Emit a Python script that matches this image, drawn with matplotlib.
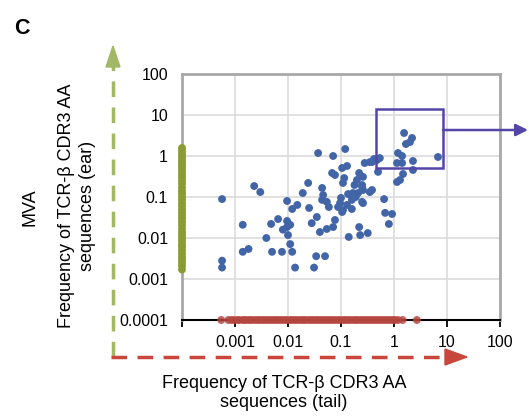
import matplotlib
matplotlib.use("Agg")
import matplotlib.pyplot as plt
from matplotlib.lines import Line2D
from matplotlib.patches import Polygon, Rectangle

plt.rcParams['font.family'] = ['Liberation Sans', 'DejaVu Sans']

# clones found in both tail and ear (frequency, %)
tail_freq = [0.00057, 0.0023, 0.0030, 0.0014, 0.0048, 0.0065, 0.0039, 0.0014, 0.0018, 0.0050,
             0.0077, 0.00057, 0.00057, 0.0096, 0.012, 0.0096, 0.0080, 0.011, 0.015, 0.025,
             0.019, 0.024, 0.037, 0.071, 0.12, 0.044, 0.046, 0.044, 0.054, 0.068,
             0.077, 0.105, 0.13, 0.109, 0.22, 0.20, 0.26, 0.35, 0.28, 0.42,
             0.54, 0.50, 0.10, 0.136, 0.16, 0.13, 0.16, 0.088, 0.105, 0.059,
             0.21, 0.26, 0.35, 0.25, 0.19, 0.18, 0.25, 0.035, 0.028, 0.077,
             0.071, 0.054, 0.040, 0.0096, 0.010, 0.22, 0.23, 0.32, 0.14, 0.65,
             0.68, 0.92, 0.80, 0.011, 0.012, 0.034, 0.050, 0.0136, 0.031, 0.096,
             0.109, 1.55, 2.19, 2.0, 1.68, 1.19, 1.42, 1.14, 1.42, 2.28,
             6.76, 2.28, 1.48, 1.30, 1.14, 0.48, 0.385, 0.385, 0.25, 0.26,
             0.168, 0.115]
ear_freq = [0.089, 0.185, 0.132, 0.021, 0.022, 0.029, 0.010, 0.0046, 0.0054, 0.0046,
            0.0046, 0.0028, 0.0019, 0.080, 0.051, 0.026, 0.016, 0.021, 0.064, 0.054,
            0.125, 0.22, 1.18, 1.0, 1.48, 0.166, 0.112, 0.085, 0.076, 0.385,
            0.344, 0.51, 0.57, 0.22, 0.385, 0.26, 0.31, 0.71, 0.675, 0.845,
            0.89, 0.41, 0.095, 0.118, 0.085, 0.064, 0.051, 0.057, 0.043, 0.057,
            0.125, 0.148, 0.132, 0.076, 0.10, 0.196, 0.196, 0.0325, 0.023, 0.0275,
            0.0185, 0.0166, 0.014, 0.0185, 0.0118, 0.0185, 0.0118, 0.0132, 0.0106, 0.089,
            0.041, 0.0385, 0.022, 0.0071, 0.0046, 0.0036, 0.0036, 0.0019, 0.0019, 0.071,
            0.048, 3.64, 2.75, 2.19, 1.96, 1.18, 1.0, 0.675, 0.675, 0.755,
            0.946, 0.456, 0.364, 0.26, 0.232, 0.80, 0.714, 0.148, 0.175, 0.071,
            0.125, 0.29]

# clones found only in the ear (drawn on the y axis)
ear_only = [1.57, 1.3, 1.1, 0.95, 0.8, 0.68, 0.58, 0.5, 0.42, 0.35, 0.3, 0.25, 0.21, 0.17,
            0.14, 0.12, 0.1, 0.085, 0.07, 0.06, 0.05, 0.042, 0.035, 0.03, 0.025, 0.021,
            0.017, 0.014, 0.012, 0.01, 0.0085, 0.007, 0.006, 0.005, 0.0042, 0.0035,
            0.003, 0.0025, 0.0021, 0.0017]
# clones found only in the tail (drawn on the x axis)
tail_only = [0.00055, 0.00075, 0.00085, 0.00095, 0.0011, 0.0012, 0.0014, 0.0015, 0.0017,
             0.0019, 0.0021, 0.0024, 0.0027, 0.003, 0.0034, 0.0038, 0.0043, 0.0048,
             0.0054, 0.006, 0.0067, 0.0075, 0.0085, 0.0095, 0.011, 0.012, 0.0135, 0.015,
             0.017, 0.019, 0.021, 0.024, 0.027, 0.03, 0.034, 0.038, 0.043, 0.048, 0.054,
             0.06, 0.067, 0.075, 0.085, 0.095, 0.11, 0.12, 0.135, 0.15, 0.17, 0.19,
             0.21, 0.24, 0.27, 0.3, 0.34, 0.38, 0.43, 0.48, 0.54, 0.6, 0.67, 0.75,
             0.85, 0.95, 1.05, 1.2, 1.45, 2.7]

ticks = [0.0001, 0.001, 0.01, 0.1, 1, 10, 100]
tick_labels = ['0.0001', '0.001', '0.01', '0.1', '1', '10', '100']

W, H = 529, 419
fig = plt.figure(figsize=(W / 100, H / 100), dpi=100)
ax = fig.add_axes([182 / W, (H - 320) / H, 318 / W, 246 / H])
ax.set_xscale('log')
ax.set_yscale('log')
ax.set_xlim(1e-4, 100)
ax.set_ylim(1e-4, 100)

ax.grid(True, color='#dcdcdc', lw=1.2, zorder=0)
ax.set_axisbelow(True)

ax.scatter(tail_freq, ear_freq, s=32, color='#4265a8', edgecolors='none', zorder=3)
ax.scatter([1e-4] * len(ear_only), ear_only, s=32, color='#8a9b33', edgecolors='none',
           zorder=4, clip_on=False)
ax.scatter(tail_only, [1e-4] * len(tail_only), s=32, color='#b4463f', edgecolors='none',
           zorder=4, clip_on=False, alpha=0.85)

ax.set_xticks(ticks)
ax.set_xticklabels([''] + tick_labels[1:])
ax.set_yticks(ticks)
ax.set_yticklabels(tick_labels)
ax.minorticks_off()
ax.tick_params(axis='x', direction='out', length=5, width=1.3, color='black',
               labelsize=11.5, pad=6)
ax.tick_params(axis='y', length=0, labelsize=11.5, pad=10)

for side in ['left', 'top', 'right']:
    ax.spines[side].set_color('#a8a8a8')
    ax.spines[side].set_linewidth(2)
ax.spines['bottom'].set_color('black')
ax.spines['bottom'].set_linewidth(1.5)

# zoom box with arrow
ax.add_patch(Rectangle((0.457, 0.51), 8.4 - 0.457, 14 - 0.51, fill=False,
                       ec='#5446a8', lw=1.8, zorder=5))
ax.annotate('', xy=(528, H - 130), xycoords='figure pixels',
            xytext=(8.4, 4.3), textcoords='data',
            arrowprops=dict(arrowstyle='-|>', color='#5446a8', lw=1.8,
                            mutation_scale=18, shrinkA=0, shrinkB=0),
            annotation_clip=False)

# dashed frame arrows
def fx(px):
    return px / W

def fy(py):
    return 1 - py / H

green = '#a3b867'
red = '#c9473a'
fig.add_artist(Line2D([fx(113), fx(113)], [fy(357), fy(66)], color=green, lw=2.5,
                      ls=(0, (4.5, 3))))
fig.add_artist(Polygon([[fx(106), fy(67)], [fx(120), fy(67)], [fx(113), fy(46)]],
                       closed=True, color=green))
fig.add_artist(Line2D([fx(111), fx(446)], [fy(357), fy(357)], color=red, lw=2.5,
                      ls=(0, (4.5, 3))))
fig.add_artist(Polygon([[fx(445), fy(349)], [fx(445), fy(365)], [fx(467), fy(357)]],
                       closed=True, color=red))

fig.text(fx(14), fy(28), 'C', fontsize=15.5, fontweight='bold', va='center', ha='left')
fig.text(fx(30), fy(207), 'MVA', fontsize=13, rotation=90, va='center', ha='center')
fig.text(fx(77), fy(206), 'Frequency of TCR-\u03b2 CDR3 AA\nsequences (ear)', fontsize=13,
         rotation=90, va='center', ha='center', linespacing=1.25)
fig.text(fx(284), fy(393), 'Frequency of TCR-\u03b2 CDR3 AA\nsequences (tail)', fontsize=13,
         va='center', ha='center', linespacing=1.15)

fig.savefig('out.png', dpi=100)
